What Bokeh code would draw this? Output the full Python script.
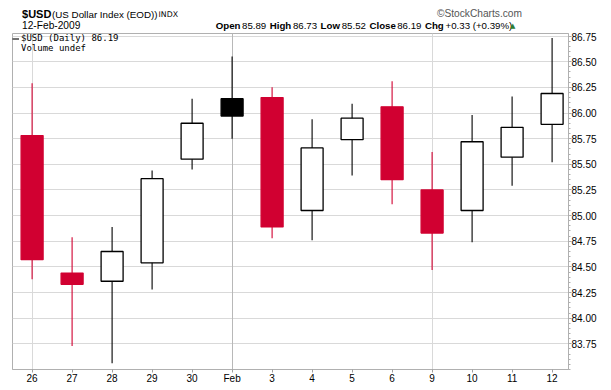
from bokeh.plotting import figure
from bokeh.layouts import column
from bokeh.models import (Range1d, FixedTicker, Grid, Label, Legend, LegendItem,
                          ColumnDataSource, NumeralTickFormatter)
from bokeh.embed import file_html
from bokeh.resources import INLINE

# ---------------- data ----------------
day_labels = ["26", "27", "28", "29", "30", "Feb", "3", "4", "5", "6", "9", "10", "11", "12"]
open_ = [85.78, 84.44, 84.36, 84.54, 85.55, 86.14, 86.15, 85.05, 85.74, 86.06, 85.25, 85.05, 85.57, 85.89]
high = [86.29, 84.79, 84.89, 85.44, 86.14, 86.55, 86.25, 85.94, 86.09, 86.31, 85.62, 85.98, 86.16, 86.73]
low = [84.38, 83.73, 83.56, 84.28, 85.45, 85.75, 84.78, 84.76, 85.39, 85.11, 84.47, 84.74, 85.29, 85.52]
close = [84.57, 84.33, 84.65, 85.36, 85.90, 85.97, 84.89, 85.66, 85.95, 85.35, 84.83, 85.72, 85.86, 86.19]
price_ticks = [83.75, 84.00, 84.25, 84.50, 84.75, 85.00, 85.25, 85.50, 85.75, 86.00, 86.25, 86.50, 86.75]
week_start_idx = [0, 10]
month_start_idx = [5]

symbol = "$USD"
symbol_name = "(US Dollar Index (EOD))"
exchange = "INDX"
date_text = "12-Feb-2009"
stat_names = ["Open", "High", "Low", "Close", "Chg"]
stat_values = ["85.89", "86.73", "85.52", "86.19", "+0.33 (+0.39%)"]
credit = "\u00a9StockCharts.com"

# ---------------- styling / layout ----------------
RED = "#d10031"
W = 611
HDR_H = 32
MAIN_H = 354
VOL_H = 4
LEFT, RIGHT = 12, 43
FONT = "Liberation Sans"
FRAME_COL = "#b0b0b0"

n = len(day_labels)
xs = list(range(n))
prev = [open_[0]] + close[:-1]
col = [RED if c < p_ else "black" for c, p_ in zip(close, prev)]
fill = [cl if c < o else "white" for cl, c, o in zip(col, close, open_)]
top = [max(o, c) for o, c in zip(open_, close)]
bot = [min(o, c) for o, c in zip(open_, close)]

src = ColumnDataSource(dict(x=xs, open=open_, high=high, low=low, close=close,
                            top=top, bottom=bot, color=col, fill=fill))

# ---------------- header strip ----------------
hdr = figure(width=W, height=HDR_H, output_backend="svg", toolbar_location=None,
             x_range=Range1d(-3.8, 627.4), y_range=Range1d(HDR_H, 0),
             x_axis_location=None, y_axis_location=None,
             min_border_left=0, min_border_right=0, min_border_top=0, min_border_bottom=0)
hdr.outline_line_color = None
hdr.xgrid.visible = False
hdr.ygrid.visible = False
hdr.background_fill_color = "white"
hdr.border_fill_color = "white"


def hlabel(text, px, py, size="10px", bold=False, color="black", font=FONT):
    hdr.add_layout(Label(x=px, y=py, text=text, text_font=font, text_font_size=size,
                         text_font_style="bold" if bold else "normal",
                         text_color=color, text_align="left", text_baseline="middle"))


hlabel(symbol, 7, 13, size="11px", bold=True)
hlabel(symbol_name, 41, 14, size="9.8px")
hlabel(exchange, 162, 14, size="7.8px", font="DejaVu Sans")
hlabel(credit, 478, 13, size="10.2px", color="#555555")
hlabel(date_text, 7, 25, size="10.2px")

REG = {d: 556 for d in "0123456789"}
REG.update({".": 278, " ": 278, "+": 584, "(": 333, ")": 333, "%": 889, "-": 333})
BOLD = {"O": 778, "p": 611, "e": 556, "n": 611, "H": 722, "i": 278, "g": 611, "h": 611,
        "L": 611, "o": 611, "w": 778, "C": 722, "l": 278, "s": 556}


def tw(s, table, size):
    return sum(table.get(ch, 556) for ch in s) * size / 1000.0


SZ = 9.7
pieces = []
for nm, vl in zip(stat_names, stat_values):
    pieces.append((nm, True, tw(nm, BOLD, SZ) * 1.08, 3.0))
    pieces.append((vl, False, tw(vl, REG, SZ) * 1.05, 6.0))
total = sum(w + g for _, _, w, g in pieces) - pieces[-1][3]
xcur = 558 - total
for txt, b, w, g in pieces:
    hlabel(txt, xcur, 25, size=f"{SZ}px", bold=b)
    xcur += w + g
hlabel("\u25b2", 561, 25, size="7px", color="#2e7d32", font="DejaVu Sans")

# ---------------- main price chart ----------------
p = figure(width=W, height=MAIN_H, output_backend="svg", toolbar_location=None,
           x_range=Range1d(-0.49, 13.41), y_range=Range1d(83.50, 86.775),
           y_axis_location="right",
           min_border_left=LEFT, min_border_right=RIGHT,
           min_border_top=1, min_border_bottom=15)
p.outline_line_color = FRAME_COL
p.background_fill_color = "white"
p.border_fill_color = "white"

p.ygrid[0].ticker = FixedTicker(ticks=price_ticks)
p.ygrid[0].grid_line_color = "#d9d9d9"
p.xgrid[0].ticker = FixedTicker(ticks=week_start_idx)
p.xgrid[0].grid_line_color = "#d9d9d9"
p.add_layout(Grid(dimension=0, ticker=FixedTicker(ticks=month_start_idx),
                  grid_line_color="#b8b8b8"))

minor = [round(83.50 + 0.05 * k, 2) for k in range(66)]
ya = p.yaxis[0]
ya.ticker = FixedTicker(ticks=price_ticks, minor_ticks=minor)
ya.formatter = NumeralTickFormatter(format="0.00")
ya.axis_line_color = FRAME_COL
ya.major_tick_line_color = "#a0a0a0"
ya.minor_tick_line_color = FRAME_COL
ya.major_tick_in = 0
ya.major_tick_out = 3
ya.minor_tick_in = 0
ya.minor_tick_out = 2
ya.major_label_standoff = 0
ya.major_label_text_font = FONT
ya.major_label_text_font_size = "10px"
ya.major_label_text_color = "black"

xa = p.xaxis[0]
xa.ticker = FixedTicker(ticks=xs)
xa.major_label_overrides = {i: lab for i, lab in enumerate(day_labels)}
xa.minor_tick_line_color = None
xa.axis_line_color = FRAME_COL
xa.major_tick_line_color = "#a0a0a0"
xa.major_tick_in = 0
xa.major_tick_out = 3
xa.major_label_standoff = 0
xa.major_label_text_font = FONT
xa.major_label_text_font_size = "10px"
xa.major_label_text_color = "black"

wick = p.segment(x0="x", y0="low", x1="x", y1="high", line_color="color",
                 line_width=1.1, source=src)
p.vbar(x="x", width=0.55, top="top", bottom="bottom", fill_color="fill",
       line_color="color", line_width=1.3, source=src)
vol = p.vbar(x=[], top=[], width=0.5, fill_color="#444444", line_color=None)

legend = Legend(items=[LegendItem(label=f"{symbol} (Daily) {close[-1]:.2f}", renderers=[wick], index=2),
                       LegendItem(label="Volume undef", renderers=[vol])],
                location="top_left", margin=0, padding=1, spacing=0,
                glyph_width=7, glyph_height=7, label_standoff=2, label_height=10,
                label_text_font="DejaVu Sans Mono", label_text_font_size="9px",
                label_text_color="black", label_text_line_height=1.0,
                background_fill_alpha=0, border_line_color=None)
p.add_layout(legend)

# ---------------- volume pane (top edge only visible) ----------------
pv = figure(width=W, height=VOL_H, output_backend="svg", toolbar_location=None,
            x_range=p.x_range, y_range=Range1d(0, 1),
            x_axis_location=None, y_axis_location=None,
            min_border_left=LEFT, min_border_right=RIGHT,
            min_border_top=1, min_border_bottom=0)
pv.outline_line_color = FRAME_COL
pv.background_fill_color = "white"
pv.border_fill_color = "white"
pv.add_layout(Grid(dimension=0, ticker=FixedTicker(ticks=week_start_idx), grid_line_color="#d9d9d9"))
pv.add_layout(Grid(dimension=0, ticker=FixedTicker(ticks=month_start_idx), grid_line_color="#b8b8b8"))

layout = column(hdr, p, pv, spacing=0)
open("out.html", "w").write(file_html(layout, INLINE))
